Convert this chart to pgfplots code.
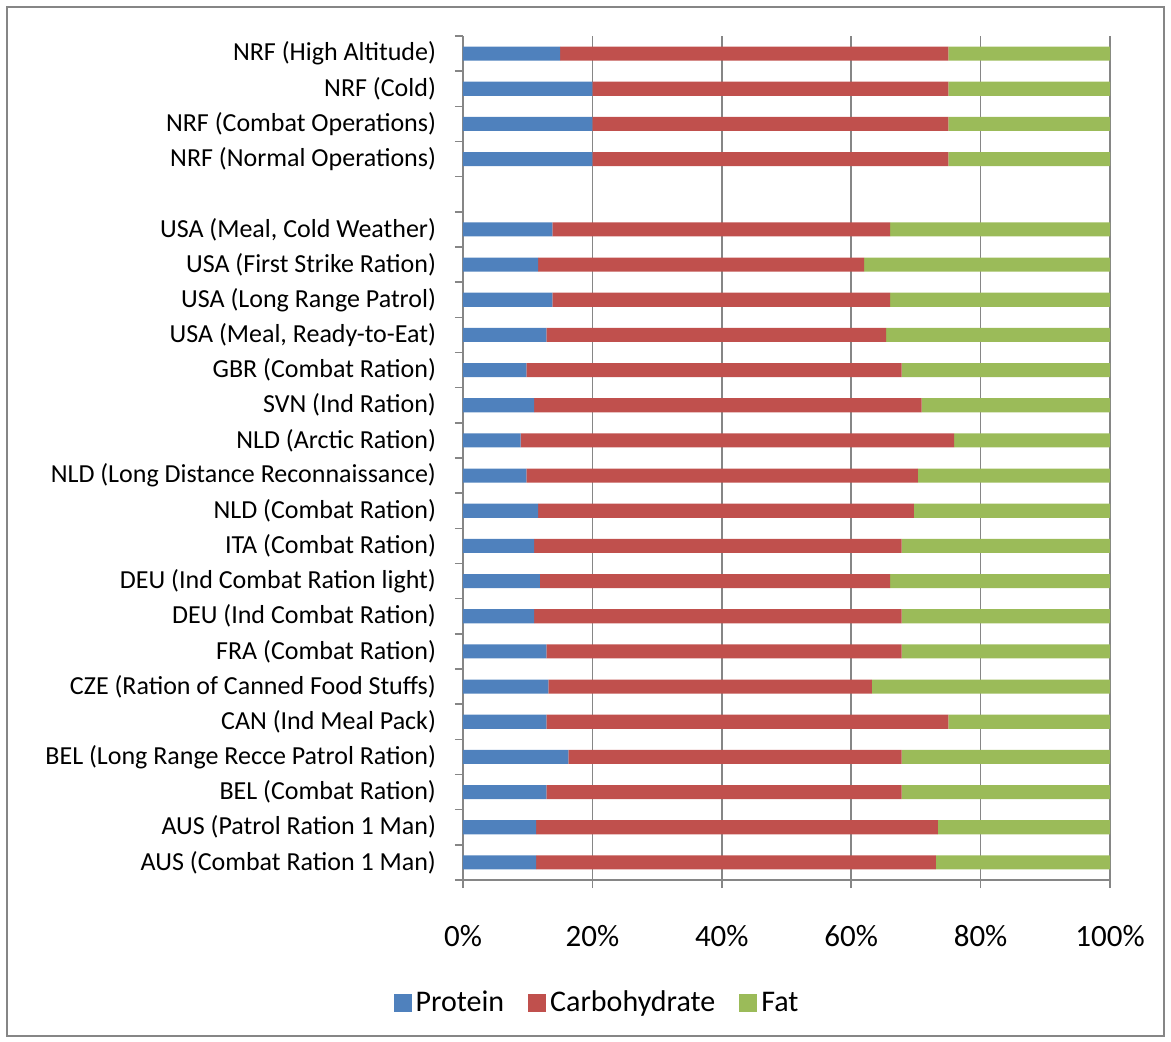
\documentclass[border=0pt]{standalone}
\usepackage{pgfplots}
\pgfplotsset{compat=1.18}
\usepackage{pgfplotstable}
\usepackage{fontspec}
\setmainfont{Carlito}
\definecolor{cP}{HTML}{4F81BD}
\definecolor{cC}{HTML}{C0504D}
\definecolor{cF}{HTML}{9BBB59}
\definecolor{axgray}{HTML}{868686}
\pgfplotstableread{
y P C F
0 11.3 61.8 26.9
1 11.3 62.1 26.6
2 12.9 54.9 32.2
3 16.3 51.5 32.2
4 12.9 62.1 25.0
5 13.2 50.0 36.8
6 12.9 54.9 32.2
7 11.0 56.8 32.2
8 11.9 54.1 34.0
9 11.0 56.8 32.2
10 11.6 58.1 30.3
11 9.8 60.5 29.7
12 8.9 67.0 24.1
13 11.0 59.9 29.1
14 9.8 58.0 32.2
15 12.9 52.5 34.6
16 13.8 52.2 34.0
17 11.6 50.4 38.0
18 13.8 52.2 34.0
20 20.0 55.0 25.0
21 20.0 55.0 25.0
22 20.0 55.0 25.0
23 15.0 60.0 25.0
}\rations
\begin{document}
\begin{tikzpicture}
\path[use as bounding box] (-231.5pt,-80.5pt) rectangle (354pt,440pt);
\draw[color=axgray, line width=0.6pt] (-228pt,-78pt) rectangle (350.5pt,436.5pt);
\begin{axis}[
  at={(0pt,0pt)}, anchor=south west,
  scale only axis, width=323.5pt, height=422pt,
  xbar stacked, bar width=0.4,
  xmin=0, xmax=100, ymin=-0.5, ymax=23.5,
  axis x line*=bottom, axis y line*=left,
  axis line style={color=axgray, line width=0.75pt},
  /pgf/number format/assume math mode=true,
  xtick={0,20,...,100},
  xticklabel={\pgfmathprintnumber{\tick}\%},
  xticklabel style={font=\fontsize{15.5pt}{18pt}\selectfont, yshift=-15pt},
  xmajorgrids, major grid style={color=axgray, line width=0.75pt},
  ytick={0,...,23},
  yticklabels={{AUS (Combat Ration 1 Man)},{AUS (Patrol Ration 1 Man)},{BEL (Combat Ration)},{BEL (Long Range Recce Patrol Ration)},{CAN (Ind Meal Pack)},{CZE (Ration of Canned Food Stuffs)},{FRA (Combat Ration)},{DEU (Ind Combat Ration)},{DEU (Ind Combat Ration light)},{ITA (Combat Ration)},{NLD (Combat Ration)},{NLD (Long Distance Reconnaissance)},{NLD (Arctic Ration)},{SVN (Ind Ration)},{GBR (Combat Ration)},{USA (Meal, Ready-to-Eat)},{USA (Long Range Patrol)},{USA (First Strike Ration)},{USA (Meal, Cold Weather)},{},{NRF (Normal Operations)},{NRF (Combat Operations)},{NRF (Cold)},{NRF (High Altitude)}},
  yticklabel style={font=\fontsize{13pt}{15pt}\selectfont, xshift=-6pt},
  minor ytick={-0.5,0.5,...,23.5},
  tick align=outside,
  major tick length=4pt, minor tick length=4pt,
  tick style={color=axgray, line width=0.75pt},
  major y tick style={draw=none},
  legend columns=3,
  legend style={at={(axis description cs:0.2087,-0.1457)}, anchor=center, draw=none,
    font=\fontsize{15pt}{18pt}\selectfont,
    /tikz/every even column/.append style={column sep=10pt}},
]
\addplot[fill=cP, draw=none, legend image code/.code={\fill[cP] (0pt,-4.5pt) rectangle (9pt,4.5pt);}] table[x=P, y=y] {\rations};
\addplot[fill=cC, draw=none, legend image code/.code={\fill[cC] (0pt,-4.5pt) rectangle (9pt,4.5pt);}] table[x=C, y=y] {\rations};
\addplot[fill=cF, draw=none, legend image code/.code={\fill[cF] (0pt,-4.5pt) rectangle (9pt,4.5pt);}] table[x=F, y=y] {\rations};
\legend{Protein, Carbohydrate, Fat}
\end{axis}
\end{tikzpicture}
\end{document}
